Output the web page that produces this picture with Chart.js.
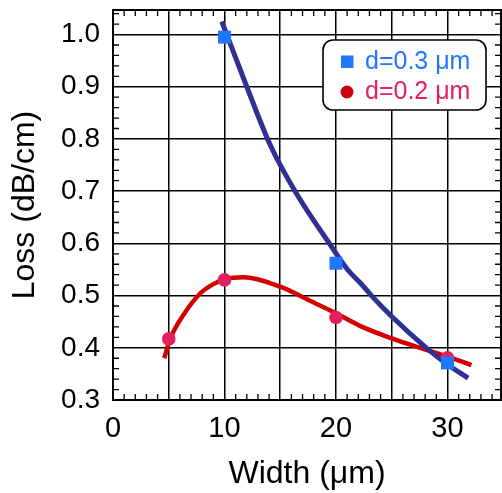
<!DOCTYPE html>
<html>
<head>
<meta charset="utf-8">
<script src="https://cdn.jsdelivr.net/npm/chart.js@4.4.0/dist/chart.umd.min.js"></script>
<style>
    html, body { margin: 0; padding: 0; background: #fff; }
    #wrap { width: 502px; height: 493px; }
</style>
</head>
<body>
<div id="wrap"><canvas id="lossChart" width="502" height="493"></canvas></div>
<script>
// Measured points
const seriesNames = ['d=0.3 \u03bcm', 'd=0.2 \u03bcm'];
const width03 = [10, 20, 30];
const loss03 = [0.995, 0.562, 0.371];
const width02 = [5, 10, 20, 30];
const loss02 = [0.417, 0.530, 0.458, 0.381];

// Fitted curves
const fitWidth03 = [9.76, 12.0, 14.09, 16.33, 19.4, 21.07, 22.15, 23.18, 25, 28.1, 30, 31.85];
const fitLoss03 = [1.025, 0.9, 0.789, 0.7, 0.6, 0.549, 0.525, 0.5, 0.46, 0.4, 0.368, 0.342];
const fitWidth02 = [4.6, 5.13, 6.32, 7.82, 9.0, 10.15, 11.7, 15, 17.67, 20, 22.15, 25, 27.97, 30, 32.15];
const fitLoss02 = [0.380, 0.417, 0.463, 0.504, 0.522, 0.532, 0.535, 0.517, 0.490, 0.466, 0.442, 0.418, 0.397, 0.383, 0.367];

// Axis ticks
const xGridValues = [0, 5, 10, 15, 20, 25, 30];
const xTickLabels = [0, 10, 20, 30];
const yTickLabels = [0.3, 0.4, 0.5, 0.6, 0.7, 0.8, 0.9, 1.0];

const FONT = '"Liberation Sans", Arial, sans-serif';
const BLUE = '#2176ff';
const RED = '#e2205c';

function toPoints(xs, ys) {
    return xs.map((x, i) => ({ x: x, y: ys[i] }));
}

/**
 * Minor ticks pointing inward on all four sides, plus the frame
 */
const minorTicks = {
    id: 'minorTicks',
    afterDatasetsDraw(chart) {
        const { ctx, chartArea: a, scales: { x, y } } = chart;
        ctx.save();
        ctx.strokeStyle = '#000';
        ctx.lineWidth = 1.3;
        ctx.beginPath();
        for (let v = 1; v < 35; v++) {
            if (v % 5 === 0) continue;
            const px = x.getPixelForValue(v);
            if (px > a.right) break;
            ctx.moveTo(px, a.bottom); ctx.lineTo(px, a.bottom - 6);
            ctx.moveTo(px, a.top); ctx.lineTo(px, a.top + 6);
        }
        for (let i = 16; i < 53; i++) {
            if (i % 5 === 0) continue;
            const py = y.getPixelForValue(i * 0.02);
            if (py < a.top) break;
            ctx.moveTo(a.left, py); ctx.lineTo(a.left + 6, py);
            ctx.moveTo(a.right, py); ctx.lineTo(a.right - 6, py);
        }
        ctx.stroke();
        ctx.lineWidth = 2;
        ctx.strokeRect(a.left, a.top, a.right - a.left, a.bottom - a.top);
        ctx.restore();
    }
};

/**
 * Rounded legend box inside the plot
 */
const boxLegend = {
    id: 'boxLegend',
    afterDraw(chart) {
        const { ctx, chartArea: a } = chart;
        const left = a.right - 178, top = a.top + 30, w = 163, h = 70;
        ctx.save();
        ctx.beginPath();
        ctx.roundRect(left, top, w, h, 10);
        ctx.fillStyle = '#fff';
        ctx.fill();
        ctx.lineWidth = 1.6;
        ctx.strokeStyle = '#000';
        ctx.stroke();

        ctx.font = '25px ' + FONT;
        ctx.textBaseline = 'middle';
        // blue square entry
        ctx.fillStyle = BLUE;
        ctx.fillRect(left + 18, top + 15.5, 12.5, 12.5);
        ctx.fillText(seriesNames[0], left + 42, top + 22);
        // red circle entry
        ctx.fillStyle = '#cc0010';
        ctx.beginPath();
        ctx.arc(left + 24, top + 52, 6.5, 0, Math.PI * 2);
        ctx.fill();
        ctx.fillStyle = RED;
        ctx.fillText(seriesNames[1], left + 42, top + 52);
        ctx.restore();
    }
};

function initLossChart() {
    const ctx = document.getElementById('lossChart');

    new Chart(ctx, {
        type: 'scatter',
        data: {
            datasets: [
                {
                    label: seriesNames[0],
                    data: toPoints(width03, loss03),
                    pointStyle: 'rect',
                    pointRadius: 9.2,
                    backgroundColor: BLUE,
                    borderWidth: 0,
                    order: 0
                },
                {
                    label: seriesNames[1],
                    data: toPoints(width02, loss02),
                    pointStyle: 'circle',
                    pointRadius: 6.8,
                    backgroundColor: RED,
                    borderWidth: 0,
                    order: 1
                },
                {
                    label: 'fit 0.3',
                    data: toPoints(fitWidth03, fitLoss03),
                    showLine: true,
                    pointRadius: 0,
                    borderColor: '#2e3192',
                    borderWidth: 5,
                    cubicInterpolationMode: 'monotone',
                    order: 2
                },
                {
                    label: 'fit 0.2',
                    data: toPoints(fitWidth02, fitLoss02),
                    showLine: true,
                    pointRadius: 0,
                    borderColor: '#d40000',
                    borderWidth: 4.5,
                    cubicInterpolationMode: 'monotone',
                    order: 3
                }
            ]
        },
        options: {
            responsive: false,
            animation: false,
            layout: {
                autoPadding: false,
                padding: { top: 10, right: 1, left: 0, bottom: 0 }
            },
            plugins: {
                legend: { display: false },
                tooltip: { enabled: false }
            },
            scales: {
                x: {
                    type: 'linear',
                    min: 0,
                    max: 34.8,
                    afterFit: (scale) => {
                        scale.height = 93;
                        scale.paddingLeft = 0;
                        scale.paddingRight = 0;
                    },
                    afterBuildTicks: (scale) => {
                        scale.ticks = xGridValues.map(v => ({ value: v }));
                    },
                    ticks: {
                        color: '#000',
                        padding: 12,
                        maxRotation: 0,
                        font: { size: 29, family: FONT },
                        callback: (v) => xTickLabels.includes(v) ? String(v) : ''
                    },
                    grid: { color: '#000', lineWidth: 1.5, drawTicks: false },
                    border: { display: false },
                    title: {
                        display: true,
                        text: 'Width (\u03bcm)',
                        color: '#000',
                        font: { size: 32, family: FONT },
                        padding: { top: 0, bottom: 0 }
                    }
                },
                y: {
                    type: 'linear',
                    min: 0.3,
                    max: 1.047,
                    afterFit: (scale) => {
                        scale.width = 113;
                        scale.paddingTop = 0;
                        scale.paddingBottom = 0;
                    },
                    afterBuildTicks: (scale) => {
                        scale.ticks = yTickLabels.map(v => ({ value: v }));
                    },
                    ticks: {
                        color: '#000',
                        padding: 13,
                        font: { size: 28, family: FONT },
                        callback: (v) => v.toFixed(1)
                    },
                    grid: { color: '#000', lineWidth: 1.5, drawTicks: false },
                    border: { display: false },
                    title: {
                        display: true,
                        text: 'Loss (dB/cm)',
                        color: '#000',
                        font: { size: 32, family: FONT },
                        padding: { top: 6, bottom: 0 }
                    }
                }
            }
        },
        plugins: [minorTicks, boxLegend]
    });
}

document.addEventListener('DOMContentLoaded', initLossChart);
</script>
</body>
</html>
